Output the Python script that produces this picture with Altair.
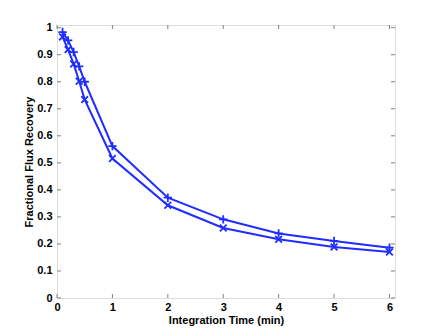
import altair as alt
import pandas as pd

x_vals = [0.1, 0.2, 0.3, 0.4, 0.5, 1, 2, 3, 4, 5, 6]
upper_vals = [0.984, 0.953, 0.910, 0.857, 0.800, 0.562, 0.371, 0.291, 0.239, 0.211, 0.186]
lower_vals = [0.966, 0.919, 0.866, 0.802, 0.734, 0.516, 0.343, 0.259, 0.217, 0.189, 0.170]
x_ticks = [0, 1, 2, 3, 4, 5, 6]
y_ticks = [0, 0.1, 0.2, 0.3, 0.4, 0.5, 0.6, 0.7, 0.8, 0.9, 1.0]

W, H = 338, 273
BLUE = "#1f2dff"
FONT = "Liberation Sans"

up = pd.DataFrame({"t": x_vals, "f": upper_vals})
lo = pd.DataFrame({"t": x_vals, "f": lower_vals})
xt = pd.DataFrame({"t": x_ticks})
yt = pd.DataFrame({"f": y_ticks})

xscale = alt.Scale(domain=[0, 6.1], nice=False, zero=False)
yscale = alt.Scale(domain=[0, 1.01], nice=False, zero=False)

xaxis = alt.Axis(values=x_ticks, title="Integration Time (min)", ticks=False, grid=False,
                 domain=False, labelFont=FONT, labelFontSize=11, labelFontWeight="bold",
                 labelColor="black", titleFont=FONT, titleFontSize=11, titleFontWeight="bold",
                 titleColor="black", labelPadding=3, titlePadding=2, format="d",
                 labelOverlap=False, labelFlush=False, labelBound=False)
yaxis = alt.Axis(values=y_ticks, title="Fractional Flux Recovery", ticks=False, grid=False,
                 domain=False, labelFont=FONT, labelFontSize=11, labelFontWeight="bold",
                 labelColor="black", titleFont=FONT, titleFontSize=11, titleFontWeight="bold",
                 titleColor="black", labelPadding=5, titlePadding=2, format=".1~f",
                 labelOverlap=False, labelFlush=False, labelBound=False)

plus_path = "M-1,0L1,0M0,-1L0,1"
x_path = "M-0.8,-0.8L0.8,0.8M-0.8,0.8L0.8,-0.8"

base_x = alt.X("t:Q", scale=xscale, axis=xaxis)
base_y = alt.Y("f:Q", scale=yscale, axis=yaxis)

line_up = alt.Chart(up).mark_line(color=BLUE, strokeWidth=2).encode(x=base_x, y=base_y)
line_lo = alt.Chart(lo).mark_line(color=BLUE, strokeWidth=2).encode(x=base_x, y=base_y)
pts_up = alt.Chart(up).mark_point(shape=plus_path, filled=False, stroke=BLUE, strokeWidth=1.8,
                                  size=70, opacity=1).encode(x=base_x, y=base_y)
pts_lo = alt.Chart(lo).mark_point(shape=x_path, filled=False, stroke=BLUE, strokeWidth=1.8,
                                  size=70, opacity=1).encode(x=base_x, y=base_y)

tick_color = "#808080"
xs = alt.X("t:Q", scale=xscale, axis=xaxis)
ys = alt.Y("f:Q", scale=yscale, axis=yaxis)
xt_bot = alt.Chart(xt).mark_rule(color=tick_color).encode(x=xs, y=alt.value(H), y2=alt.value(H - 4))
xt_top = alt.Chart(xt).mark_rule(color=tick_color).encode(x=xs, y=alt.value(0), y2=alt.value(4))
yt_left = alt.Chart(yt).mark_rule(color=tick_color).encode(y=ys, x=alt.value(0), x2=alt.value(4))
yt_right = alt.Chart(yt).mark_rule(color=tick_color).encode(y=ys, x=alt.value(W), x2=alt.value(W - 4))

chart = alt.layer(line_up, line_lo, pts_up, pts_lo, xt_bot, xt_top, yt_left, yt_right).properties(
    width=W, height=H,
    autosize=alt.AutoSizeParams(type="none"),
    padding={"left": 49, "top": 17, "right": 33, "bottom": 30},
).configure_view(stroke="#333333", strokeWidth=1).configure(background="white")

chart.save("out.html", embed_options={"renderer": "svg", "actions": False})
